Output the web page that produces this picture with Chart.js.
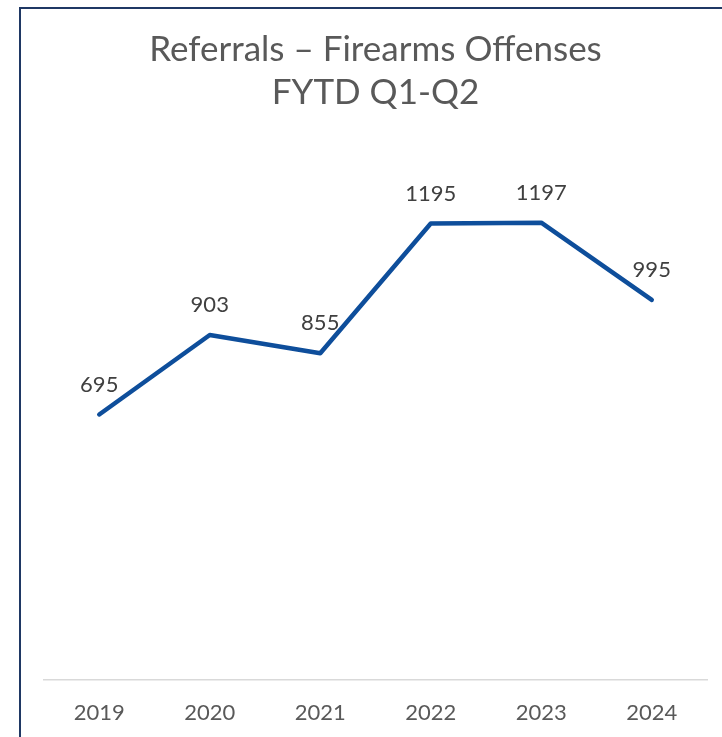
<!DOCTYPE html>
<html>
<head>
<meta charset="utf-8">
<script src="https://cdn.jsdelivr.net/npm/chart.js@4"></script>
<style>
  html, body { margin: 0; padding: 0; background: #fff; overflow: hidden; }
  #marco { position: absolute; left: 19px; top: 7px; width: 800px; height: 800px;
           border-left: 2px solid #1f3864; border-top: 2px solid #1f3864; }
  #caja { position: absolute; left: 0; top: 0; width: 722px; height: 737px; }
</style>
</head>
<body>
<div id="marco"></div>
<div id="caja"><canvas id="grafico"></canvas></div>
<script>
// datos del grafico
const anios = ["2019", "2020", "2021", "2022", "2023", "2024"];
const referidos = [695, 903, 855, 1195, 1197, 995];
const titulo = ["Referrals \u2013 Firearms Offenses", "FYTD Q1-Q2"];

const fuente = "Lato, 'Open Sans', sans-serif";

// etiquetas de valor encima de cada punto
const etiquetasValor = {
    id: "etiquetasValor",
    afterDatasetsDraw(chart) {
        const ctx = chart.ctx;
        const meta = chart.getDatasetMeta(0);
        ctx.save();
        ctx.font = "22px " + fuente;
        ctx.fillStyle = "#404040";
        ctx.textAlign = "center";
        ctx.textBaseline = "middle";
        meta.data.forEach((p, i) => {
            ctx.fillText(chart.data.datasets[0].data[i], p.x, p.y - 30);
        });
        ctx.restore();
    }
};

const config = {
    type: "line",
    data: {
        labels: anios,
        datasets: [{
            label: "Referrals",
            data: referidos,
            borderColor: "#0e4e9b",
            borderWidth: 4.5,
            borderCapStyle: "round",
            borderJoinStyle: "round",
            pointRadius: 0,
            tension: 0,
            fill: false
        }]
    },
    options: {
        responsive: false,
        animation: false,
        layout: { padding: { left: 44, right: 15, top: 0, bottom: 5 } },
        plugins: {
            legend: { display: false },
            tooltip: { enabled: false },
            title: {
                display: true,
                text: titulo,
                color: "#595959",
                font: { family: fuente, size: 35, weight: "normal", lineHeight: 1.23 },
                padding: { top: 28, bottom: 31 }
            }
        },
        scales: {
            x: {
                offset: true,
                grid: { display: false, drawTicks: false },
                border: { display: true, color: "#d9d9d9", width: 1.5 },
                ticks: { color: "#595959", padding: 20, font: { family: fuente, size: 22 } },
                afterFit(scale) { scale.height = 52; }
            },
            y: {
                display: false,
                min: 0,
                max: 1400
            }
        }
    },
    plugins: [etiquetasValor]
};

const lienzo = document.getElementById("grafico");
lienzo.width = 722;
lienzo.height = 737;
window.grafico = new Chart(lienzo.getContext("2d"), config);
</script>
</body>
</html>
